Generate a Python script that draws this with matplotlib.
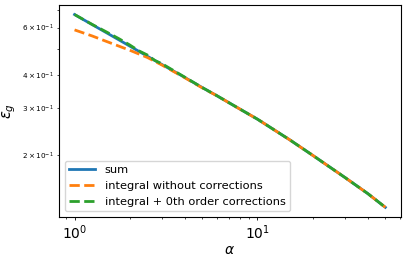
import matplotlib
matplotlib.use("Agg")
import matplotlib.pyplot as plt

alpha = [1, 1.25, 1.5, 2, 2.5, 3, 4, 5, 6, 8, 10, 15, 20, 30, 40, 50]
eps_sum = [0.671, 0.615, 0.573, 0.512, 0.469, 0.437, 0.391, 0.358, 0.334,
           0.298, 0.273, 0.2287, 0.2003, 0.1656, 0.1442, 0.128]
eps_int = [0.588, 0.558, 0.532, 0.494, 0.464, 0.435, 0.390, 0.357, 0.334,
           0.298, 0.273, 0.2287, 0.2003, 0.1656, 0.1442, 0.128]
alpha_g = [1, 1.25, 1.5, 1.75, 2, 2.25, 2.5, 2.75, 3, 4, 5, 6, 8, 10, 15, 20, 30, 40, 50]
eps_g0 = [0.671, 0.616, 0.577, 0.545, 0.517, 0.491, 0.474, 0.452, 0.440, 0.392,
          0.358, 0.334, 0.298, 0.273, 0.2287, 0.2003, 0.1656, 0.1442, 0.128]

fig = plt.figure(figsize=(4.07, 2.58), dpi=100)
ax = fig.add_axes([0.145, 0.159, 0.840, 0.822])
ax.plot(alpha, eps_sum, color="#1f77b4", lw=2, label="sum")
ax.plot(alpha, eps_int, color="#ff7f0e", lw=2, ls="--", label="integral without corrections")
ax.plot(alpha_g, eps_g0, color="#2ca02c", lw=2, ls="--", label="integral + 0th order corrections")
ax.set_xscale("log")
ax.set_yscale("log")
ax.tick_params(axis="both", which="major", length=2.5, pad=2, width=0.6)
ax.tick_params(axis="both", which="minor", length=1.5, pad=2, width=0.5)
ax.tick_params(axis="x", which="major", labelsize=10)
ax.tick_params(axis="y", which="both", labelsize=5.2)
for s in ax.spines.values():
    s.set_linewidth(0.8)
ax.set_xlabel(r"$\alpha$", fontsize=10, labelpad=1)
ax.set_ylabel(r"$\varepsilon_g$", fontsize=10.5, labelpad=3)
ax.legend(loc="lower left", fontsize=8.2, handlelength=2.3)
fig.savefig("out.png", dpi=100)
